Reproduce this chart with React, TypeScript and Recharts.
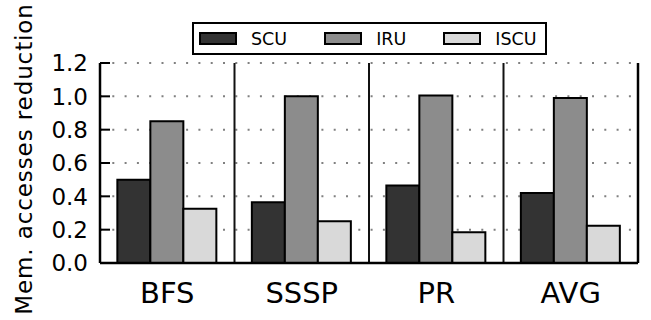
import { BarChart, Bar, XAxis, YAxis, CartesianGrid, ReferenceLine } from 'recharts';

const categories = ['BFS', 'SSSP', 'PR', 'AVG'];
const scu = [0.5, 0.365, 0.465, 0.42];
const iru = [0.85, 1.0, 1.005, 0.99];
const iscu = [0.325, 0.25, 0.185, 0.223];
const yTicks = [0, 0.2, 0.4, 0.6, 0.8, 1.0, 1.2];

const series = [
  { key: 'SCU', values: scu, color: '#333333' },
  { key: 'IRU', values: iru, color: '#8c8c8c' },
  { key: 'ISCU', values: iscu, color: '#d9d9d9' },
];

const FONT = '"DejaVu Sans", sans-serif';
const frameLine = { stroke: '#000', strokeWidth: 2.5 };

const data = categories.map((name, i) => {
  const row: Record<string, string | number> = { name };
  series.forEach((s) => {
    row[s.key] = s.values[i];
  });
  return row;
});

function LeftTick({ x, y, payload }: any) {
  return (
    <g>
      <line x1={x + 12} x2={x + 22} y1={y} y2={y} stroke="#000" strokeWidth={2} />
      <text x={x} y={y} dy="0.36em" textAnchor="end" fontSize={23} fontFamily={FONT} fill="#000">
        {Number(payload.value).toFixed(1)}
      </text>
    </g>
  );
}

function RightTick({ x, y }: any) {
  return <line x1={x - 10} x2={x} y1={y} y2={y} stroke="#000" strokeWidth={2} />;
}

function YLabel({ viewBox }: any) {
  const cy = viewBox.y + viewBox.height / 2 - 4;
  return (
    <text
      x={0}
      y={0}
      transform={`translate(32, ${cy}) rotate(-90)`}
      textAnchor="middle"
      fontSize={23}
      letterSpacing={0.9}
      fontFamily={FONT}
      fill="#000"
    >
      Mem. accesses reduction
    </text>
  );
}

export default function App() {
  return (
    <div style={{ position: 'absolute', left: 0, top: 0, width: 651, height: 320, background: '#fff' }}>
      <BarChart
        width={651}
        height={320}
        data={data}
        margin={{ top: 63, right: 0, bottom: 0, left: 0 }}
        barCategoryGap="12.9%"
        barGap={0}
      >
        <CartesianGrid vertical={false} stroke="#808080" strokeWidth={2} strokeDasharray="2 10.3" />
        <XAxis
          dataKey="name"
          height={57}
          tickSize={0}
          tickMargin={19}
          tickLine={false}
          axisLine={frameLine}
          tick={{ fontSize: 29, fill: '#000', fontFamily: FONT }}
        />
        <XAxis
          xAxisId="top"
          dataKey="name"
          orientation="top"
          height={0}
          tick={false}
          tickLine={false}
          axisLine={frameLine}
        />
        <YAxis
          width={100}
          domain={[0, 1.2]}
          ticks={yTicks}
          interval={0}
          tickSize={0}
          tickMargin={12}
          axisLine={frameLine}
          tick={<LeftTick />}
          label={<YLabel />}
        />
        <YAxis
          yAxisId="right"
          orientation="right"
          width={13}
          domain={[0, 1.2]}
          ticks={yTicks}
          interval={0}
          tickSize={0}
          tickMargin={0}
          axisLine={frameLine}
          tick={<RightTick />}
        />
        {series.map((s) => (
          <Bar
            key={s.key}
            dataKey={s.key}
            fill={s.color}
            stroke="#000"
            strokeWidth={2}
            isAnimationActive={false}
          />
        ))}
        {categories.slice(1).map((c) => (
          <ReferenceLine key={c} x={c} position="start" stroke="#111" strokeWidth={2} />
        ))}
      </BarChart>
      <div
        style={{
          position: 'absolute',
          left: 192,
          top: 22,
          width: 355,
          height: 33,
          boxSizing: 'border-box',
          border: '2px solid #000',
          background: '#fff',
          display: 'flex',
          alignItems: 'center',
          paddingLeft: 5,
          fontFamily: FONT,
          fontSize: 17.5,
        }}
      >
        {series.map((s, i) => (
          <div key={s.key} style={{ display: 'flex', alignItems: 'center', marginRight: i < series.length - 1 ? 37 : 0 }}>
            <div
              style={{
                width: 38,
                height: 13,
                boxSizing: 'border-box',
                border: '2px solid #000',
                background: s.color,
                marginRight: 14,
              }}
            />
            <span>{s.key}</span>
          </div>
        ))}
      </div>
    </div>
  );
}
